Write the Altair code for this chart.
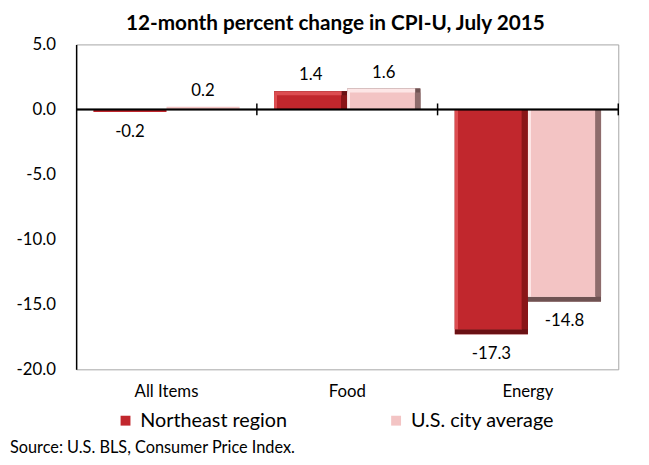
import altair as alt
import pandas as pd

categories = ["All Items", "Food", "Energy"]
series_names = ["Northeast region", "U.S. city average"]
northeast = [-0.2, 1.4, -17.3]
us_average = [0.2, 1.6, -14.8]
y_ticks = [-20, -15, -10, -5, 0, 5]

rows = []
for c, ne, us in zip(categories, northeast, us_average):
    rows.append({"category": c, "series": series_names[0], "value": ne})
    rows.append({"category": c, "series": series_names[1], "value": us})
df = pd.DataFrame(rows)
cat_df = pd.DataFrame({"category": categories})

FONT = "Lato"
NE_MAIN, NE_LIGHT, NE_DARK = "#c1272d", "#dc4d51", "#6a1114"
US_MAIN, US_LIGHT, US_DARK = "#f3c4c4", "#fde6e6", "#6e5252"


def grad(stops):
    return {"gradient": "linear", "x1": 0, "x2": 1, "y1": 0, "y2": 0,
            "stops": [{"offset": o, "color": c} for o, c in stops]}


def X(**kw):
    return alt.X("category:N", sort=categories,
                 scale=alt.Scale(paddingInner=0, paddingOuter=0),
                 axis=alt.Axis(title=None, labelAngle=0, domain=False, ticks=False,
                               tickSize=0, labelFontSize=17, labelFont=FONT,
                               labelColor="black", labelPadding=15), **kw)


def XO():
    return alt.XOffset("series:N", sort=series_names,
                       scale=alt.Scale(paddingInner=0, paddingOuter=0.236))


def Y():
    return alt.Y("value:Q", stack=None,
                 scale=alt.Scale(domain=[-20, 5], nice=False, zero=False),
                 axis=alt.Axis(title=None, values=y_ticks, format=".1f", grid=False,
                               ticks=False, tickSize=0, domainColor="black",
                               domainWidth=1.5, labelFontSize=17, labelFont=FONT,
                               labelColor="black", labelPadding=21,
                               labelExpr="replace(datum.label, '\u2212', '-')"))


is_ne = alt.datum.series == series_names[0]

base = alt.Chart(df).mark_bar().encode(
    x=X(), xOffset=XO(), y=Y(),
    color=alt.Color("series:N", sort=series_names,
                    scale=alt.Scale(domain=series_names, range=[NE_MAIN, US_MAIN]),
                    legend=alt.Legend(title=None, orient="none", legendX=40, legendY=371,
                                      direction="horizontal", columns=2,
                                      symbolType="square", symbolSize=100,
                                      symbolStrokeWidth=0, labelFont=FONT,
                                      labelFontSize=20, labelColor="black",
                                      columnPadding=100, labelOffset=5)),
)

edge_color = alt.when(is_ne).then(alt.value(NE_DARK)).otherwise(alt.value(US_DARK))
light_color = alt.when(is_ne).then(
    alt.value(grad([(0, NE_LIGHT), (0.92, NE_LIGHT), (0.925, NE_DARK), (1, NE_DARK)]))
).otherwise(
    alt.value(grad([(0, US_LIGHT), (0.93, US_LIGHT), (0.935, US_DARK), (1, US_DARK)]))
)
face_color = alt.when(is_ne).then(
    alt.value(grad([(0, NE_LIGHT), (0.04, NE_LIGHT), (0.045, NE_MAIN), (0.91, NE_MAIN),
                    (0.915, "#8a1518"), (1, "#8a1518")]))
).otherwise(
    alt.value(grad([(0, US_LIGHT), (0.04, US_LIGHT), (0.045, US_MAIN), (0.92, US_MAIN),
                    (0.925, "#8e6c6c"), (1, "#8e6c6c")]))
)

pos = alt.datum.value > 1
neg = alt.datum.value < -1

layers = [base]
for filt, t_off, f_off in [
    (pos, {"y2Offset": -4}, {"yOffset": 4, "y2Offset": -4}),
    (neg, {"yOffset": -5}, {"yOffset": -5, "y2Offset": 8}),
]:
    layers.append(alt.Chart(df).transform_filter(filt).mark_bar().encode(
        x=X(), xOffset=XO(), y=Y(), color=edge_color))
    layers.append(alt.Chart(df).transform_filter(filt).mark_bar(**t_off).encode(
        x=X(), xOffset=XO(), y=Y(), color=light_color))
    layers.append(alt.Chart(df).transform_filter(filt).mark_bar(**f_off).encode(
        x=X(), xOffset=XO(), y=Y(), color=face_color))

label_expr = "replace(format(datum.value, '.1f'), '\u2212', '-')"
label_pos = alt.Chart(df).transform_filter(alt.datum.value > 0).transform_calculate(
    label=label_expr).mark_text(
    baseline="bottom", dy=-7, font=FONT, fontSize=17, color="black").encode(
    x=X(), xOffset=XO(), y=Y(), text="label:N")
label_neg = alt.Chart(df).transform_filter(alt.datum.value < 0).transform_calculate(
    label=label_expr).mark_text(
    baseline="top", dy=12, font=FONT, fontSize=17, color="black").encode(
    x=X(), xOffset=XO(), y=Y(), text="label:N")

zero_rule = alt.Chart(cat_df).mark_rule(color="black", strokeWidth=1.5).encode(
    y=alt.datum(0))
tick_rules = alt.Chart(cat_df).mark_rule(color="black", strokeWidth=1.5,
                                         yOffset=-6, y2Offset=6).encode(
    x=X(bandPosition=1), y=alt.datum(0), y2=alt.datum(0))

source = alt.Chart(cat_df).transform_filter(alt.datum.category == categories[0]).mark_text(
    text="Source: U.S. BLS, Consumer Price Index.", align="left", baseline="middle",
    font=FONT, fontSize=16.5, color="black").encode(
    x=alt.value(-67), y=alt.value(409))

layers += [label_pos, label_neg, zero_rule, tick_rules, source]

chart = alt.layer(*layers).properties(
    width=549, height=329,
    autosize=alt.AutoSizeParams(type="none"),
    padding={"left": 69, "top": 34, "right": 23, "bottom": 94},
    background="white",
    title=alt.TitleParams("12-month percent change in CPI-U, July 2015", font=FONT,
                          fontSize=21, fontWeight="bold", color="black",
                          anchor="middle", frame="group", dx=-12, offset=2),
).configure_view(stroke="#a6a6a6", strokeWidth=1)

chart.save("out.html", embed_options={"renderer": "svg", "actions": False})
